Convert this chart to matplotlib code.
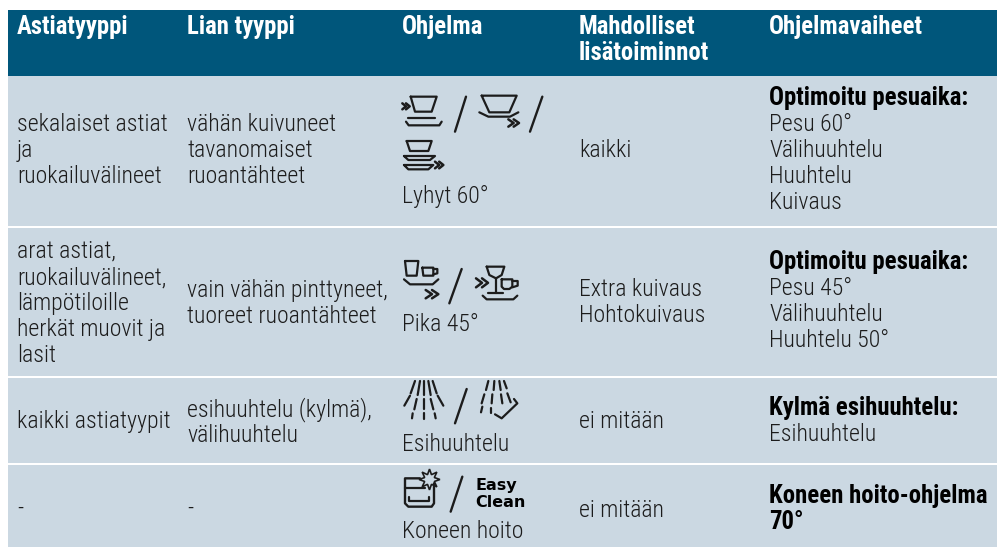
import matplotlib
matplotlib.use("Agg")
import matplotlib.pyplot as plt
from matplotlib.patches import Rectangle

# Taulukon sisalto
otsikot = ["Astiatyyppi", "Lian tyyppi", "Ohjelma", "Mahdolliset\nlisätoiminnot", "Ohjelmavaiheet"]
astiat = ["sekalaiset astiat\nja\nruokailuvälineet",
          "arat astiat,\nruokailuvälineet,\nlämpötiloille\nherkät muovit ja\nlasit",
          "kaikki astiatyypit", "-"]
liat = ["vähän kuivuneet\ntavanomaiset\nruoantähteet",
        "vain vähän pinttyneet,\ntuoreet ruoantähteet",
        "esihuuhtelu (kylmä),\nvälihuuhtelu", "-"]
ohjelmat = ["Lyhyt 60°", "Pika 45°", "Esihuuhtelu", "Koneen hoito"]
lisat = ["kaikki", "Extra kuivaus\nHohtokuivaus", "ei mitään", "ei mitään"]
vaihe_otsikot = ["Optimoitu pesuaika:", "Optimoitu pesuaika:", "Kylmä esihuuhtelu:", "Koneen hoito-ohjelma\n70°"]
vaiheet = ["Pesu 60°\nVälihuuhtelu\nHuuhtelu\nKuivaus", "Pesu 45°\nVälihuuhtelu\nHuuhtelu 50°", "Esihuuhtelu", ""]
easy_clean = ["Easy", "Clean"]

sarakkeet = [17, 187, 402, 579, 769]
VALI = 26.1
KOKO = 17.1
LIHAVA = 17.8
MUSTA = "#1c1c1c"

plt.rcParams["font.family"] = ["Roboto Condensed", "Archivo Narrow", "Roboto", "DejaVu Sans"]

fig = plt.figure(figsize=(9.97, 5.47), dpi=100)
ax = fig.add_axes([0, 0, 1, 1])
ax.set_xlim(0, 997)
ax.set_ylim(547, 0)
ax.axis("off")

ax.add_patch(Rectangle((8, 10), 989, 66, color="#00567b", lw=0))
for y0, y1 in [(76, 226), (228, 376), (378, 463), (465, 547)]:
    ax.add_patch(Rectangle((8, y0), 989, y1 - y0, color="#cbd8e2", lw=0))


def kirjoita(x, y, teksti, **kw):
    # rivi kerrallaan, y on peruslinja
    kw.setdefault("fontsize", KOKO)
    kw.setdefault("color", MUSTA)
    kw.setdefault("fontweight", 300)
    for i, rivi in enumerate(teksti.split("\n")):
        ax.text(x, y + i * VALI, rivi, va="baseline", **kw)


for x, t in zip(sarakkeet, otsikot):
    kirjoita(x, 34, t, color="white", fontweight="bold", fontsize=LIHAVA)

for i, y in enumerate([131, 258, 428, 515]):
    kirjoita(sarakkeet[0], y, astiat[i])
for i, y in enumerate([131, 297, 416, 515]):
    kirjoita(sarakkeet[1], y, liat[i])
for i, y in enumerate([203, 331, 451, 538]):
    kirjoita(sarakkeet[2], y, ohjelmat[i])
for i, y in enumerate([157, 296, 428, 517]):
    kirjoita(sarakkeet[3], y, lisat[i])
for i, y in enumerate([105, 269, 415, 503]):
    kirjoita(sarakkeet[4], y, vaihe_otsikot[i], fontweight="bold", color="black", fontsize=LIHAVA)
for i, y in enumerate([131, 295, 441]):
    kirjoita(sarakkeet[4], y, vaiheet[i])


# Kuvakkeet: koordinaatit 3x-rajauksesta, x0/y0 on rajauksen kulma
def viiva(x0, y0, pisteet, lw=1.6, sulje=False):
    if sulje:
        pisteet = pisteet + pisteet[:1]
    xs = [x0 + p[0] / 3 for p in pisteet]
    ys = [y0 + p[1] / 3 for p in pisteet]
    ax.plot(xs, ys, color=MUSTA, lw=lw, solid_capstyle="round", solid_joinstyle="round")


def nuolet(x0, y0, x, y, w, h):
    # kaksi pientä kulmaa >>
    for dx in (0, w * 0.5):
        viiva(x0, y0, [(x + dx, y), (x + dx + w * 0.5, y + h / 2), (x + dx, y + h)], lw=1.8)


# Lyhyt 60
a, b = 390, 80
viiva(a, b, [(62, 50), (140, 50), (125, 95), (75, 95)], sulje=True)
nuolet(a, b, 37, 70, 22, 18)
viiva(a, b, [(55, 114), (135, 114)])
viiva(a, b, [(48, 125), (56, 136), (148, 136), (155, 125)])
viiva(a, b, [(228, 50), (195, 155)], lw=1.7)
viiva(a, b, [(275, 47), (380, 47), (358, 97), (298, 97)], sulje=True)
viiva(a, b, [(268, 97), (295, 110), (360, 110), (385, 97)])
nuolet(a, b, 355, 118, 32, 22)
viiva(a, b, [(457, 50), (420, 155)], lw=1.7)
viiva(a, b, [(50, 183), (125, 183), (115, 213), (60, 213)], sulje=True)
viiva(a, b, [(42, 228), (135, 228), (120, 240), (55, 240)], sulje=True)
viiva(a, b, [(42, 255), (130, 255), (115, 268), (55, 268)], sulje=True)
nuolet(a, b, 135, 245, 25, 20)

# Pika 45
a, b = 390, 245
viiva(a, b, [(45, 48), (85, 48), (80, 92), (50, 92)], sulje=True)
viiva(a, b, [(97, 68), (130, 68), (130, 92), (100, 92)], sulje=True)
viiva(a, b, [(130, 72), (142, 72), (142, 85), (130, 88)])
viiva(a, b, [(42, 103), (60, 118), (128, 118), (145, 103)])
nuolet(a, b, 107, 135, 38, 25)
viiva(a, b, [(215, 72), (178, 175)], lw=1.7)
nuolet(a, b, 258, 100, 36, 27)
viiva(a, b, [(290, 65), (343, 65), (335, 90), (318, 100), (298, 90)], sulje=True)
viiva(a, b, [(317, 100), (317, 145)])
viiva(a, b, [(295, 145), (338, 145)])
viiva(a, b, [(335, 103), (367, 103), (367, 125), (358, 132), (342, 132), (335, 125)], sulje=True)
viiva(a, b, [(367, 108), (383, 108), (383, 122), (367, 127)])
viiva(a, b, [(278, 152), (290, 163), (370, 163), (382, 152)])

# Esihuuhtelu
a, b = 390, 375
for s in [[(75, 18), (62, 55)], [(90, 18), (83, 60)], [(103, 18), (103, 60)], [(115, 18), (122, 60)],
          [(128, 18), (140, 55)], [(60, 62), (43, 92)], [(80, 72), (73, 103)], [(101, 72), (101, 103)],
          [(122, 72), (130, 103)], [(143, 62), (160, 92)], [(68, 115), (66, 130)], [(101, 115), (101, 132)],
          [(134, 115), (137, 130)], [(295, 18), (288, 45)], [(313, 18), (311, 45)], [(328, 18), (332, 45)],
          [(342, 18), (350, 40)], [(283, 58), (275, 85)], [(307, 58), (305, 85)], [(333, 58), (337, 85)],
          [(352, 55), (362, 82)], [(277, 95), (273, 112)], [(302, 98), (302, 115)]]:
    viiva(a, b, s, lw=1.6)
viiva(a, b, [(315, 118), (335, 130), (382, 85), (372, 72)])
viiva(a, b, [(230, 42), (195, 145)], lw=1.7)

# Koneen hoito
viiva(a, b, [(90, 310), (45, 310), (45, 385), (55, 395), (125, 395), (132, 385), (132, 325)], lw=1.7)
viiva(a, b, [(45, 340), (105, 340)])
viiva(a, b, [(57, 365), (57, 378), (118, 378), (118, 365)])
ax.plot(a + 118 / 3, b + 312 / 3, marker=(8, 1, 0), ms=15, mfc="none", mec=MUSTA, mew=1.2)
viiva(a, b, [(217, 305), (182, 410)], lw=1.7)
for i, t in enumerate(easy_clean):
    ax.text(475, 490 + i * 17, t, va="baseline", fontsize=11.5, fontweight="bold",
            color="black", family=["DejaVu Sans"])

fig.savefig("out.png", dpi=100)
